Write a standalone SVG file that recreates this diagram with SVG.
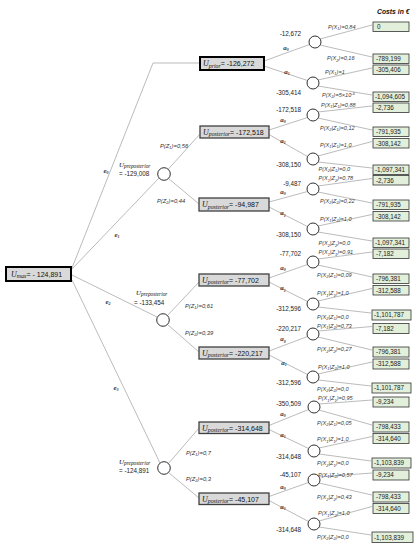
<svg xmlns="http://www.w3.org/2000/svg" width="419" height="550" viewBox="0 0 419 550">
<style>
.ln{stroke:#a9a9a9;stroke-width:0.8;fill:none}
.cn{fill:#fff;stroke:#1a1a1a;stroke-width:0.9}
.db{fill:#d9d9d9;stroke:#404040;stroke-width:1.3}
.dbk{fill:#d9d9d9;stroke:#000;stroke-width:2}
.cb{fill:#e2efda;stroke:#333;stroke-width:0.8}
.v{font-family:"Liberation Sans",Arial,sans-serif;font-size:6.3px;fill:#222}
.vr{font-family:"Liberation Sans",Arial,sans-serif;font-size:6.3px;fill:#222;text-anchor:end}
.bv{font-family:"Liberation Sans",Arial,sans-serif;font-size:7px;fill:#111}
.ui{font-family:"Liberation Serif",serif;font-style:italic;font-size:8px;fill:#111}
.us{font-family:"Liberation Serif",serif;font-style:italic;font-size:5.8px;fill:#111}
.p{font-family:"Liberation Sans",Arial,sans-serif;font-style:italic;font-size:5.6px;fill:#3a3a3a}
.pz{font-family:"Liberation Sans",Arial,sans-serif;font-style:italic;font-size:5.8px;fill:#333}
.a{font-family:"Liberation Serif",serif;font-style:italic;font-weight:bold;font-size:7px;fill:#333;text-anchor:middle}
.hd{font-family:"Liberation Sans",Arial,sans-serif;font-style:italic;font-weight:bold;font-size:6.8px;fill:#111}
.s{font-size:4px}
</style>

<g id="connectors">
<path class="ln" d="M72,268 L153,63 L200,63"/>
<path class="ln" d="M72,269 L159,178"/>
<path class="ln" d="M72,275 L157,317"/>
<path class="ln" d="M72,280 L160,463"/>
<path class="ln" d="M168,169.5 L200,134"/>
<path class="ln" d="M168.5,178.5 L199,204"/>
<path class="ln" d="M167.5,315.5 L199,282"/>
<path class="ln" d="M167.5,324.5 L199,352"/>
<path class="ln" d="M168.5,463.5 L199,428"/>
<path class="ln" d="M168.5,472.5 L199,498"/>
<path class="ln" d="M264,61 L309.5,44.5"/>
<path class="ln" d="M264,66 L307.5,80.5"/>
<path class="ln" d="M269,130 L307.5,117.5"/>
<path class="ln" d="M269,134.5 L307.5,156.5"/>
<path class="ln" d="M269,202 L307.5,191.5"/>
<path class="ln" d="M269,207 L307.5,226.5"/>
<path class="ln" d="M269,278 L307.5,264.5"/>
<path class="ln" d="M269,282 L307.5,301.5"/>
<path class="ln" d="M269,351 L307.5,336.5"/>
<path class="ln" d="M269,355 L307.5,374.5"/>
<path class="ln" d="M269,425.5 L308.5,409.5"/>
<path class="ln" d="M269,429.5 L308.5,448.5"/>
<path class="ln" d="M269,496.5 L308.5,482.5"/>
<path class="ln" d="M269,500.5 L308.5,521.5"/>
<path class="ln" d="M320,39 L372,25"/>
<path class="ln" d="M320,45 L372,57"/>
<path class="ln" d="M318,80 L372,68"/>
<path class="ln" d="M318,86 L372,95"/>
<path class="ln" d="M318,112 L372,106"/>
<path class="ln" d="M318,118 L372,130"/>
<path class="ln" d="M318,156 L372,141.5"/>
<path class="ln" d="M318,162 L372,168"/>
<path class="ln" d="M318,186 L372,178.5"/>
<path class="ln" d="M318,192 L372,203"/>
<path class="ln" d="M318,226 L372,214.5"/>
<path class="ln" d="M318,232 L372,241"/>
<path class="ln" d="M318,259 L372,252"/>
<path class="ln" d="M318,265 L372,277"/>
<path class="ln" d="M318,301 L372,288.5"/>
<path class="ln" d="M318,307 L371,313"/>
<path class="ln" d="M318,331 L372,326.5"/>
<path class="ln" d="M318,337 L372,350"/>
<path class="ln" d="M318,374 L372,362"/>
<path class="ln" d="M318,380 L371,386"/>
<path class="ln" d="M319,404 L372,400"/>
<path class="ln" d="M319,410 L372,425"/>
<path class="ln" d="M319,448 L372,436.5"/>
<path class="ln" d="M319,454 L371,461"/>
<path class="ln" d="M319,477 L372,473"/>
<path class="ln" d="M319,483 L372,495"/>
<path class="ln" d="M319,521 L372,506.5"/>
<path class="ln" d="M319,527 L371,535"/>
</g>

<g id="edge-labels">
<text class="a" x="106" y="173">e<tspan class="s" dy="1.2">0</tspan></text>
<text class="a" x="117" y="237">e<tspan class="s" dy="1.2">1</tspan></text>
<text class="a" x="108" y="304">e<tspan class="s" dy="1.2">2</tspan></text>
<text class="a" x="116" y="390">e<tspan class="s" dy="1.2">3</tspan></text>
<text class="pz" x="160" y="148">P(Z<tspan class="s" dy="1.2">1</tspan><tspan dy="-1.2">)=0,56</tspan></text>
<text class="pz" x="157" y="203">P(Z<tspan class="s" dy="1.2">2</tspan><tspan dy="-1.2">)=0,44</tspan></text>
<text class="pz" x="185" y="308">P(Z<tspan class="s" dy="1.2">1</tspan><tspan dy="-1.2">)=0,61</tspan></text>
<text class="pz" x="185" y="334.5">P(Z<tspan class="s" dy="1.2">2</tspan><tspan dy="-1.2">)=0,39</tspan></text>
<text class="pz" x="186" y="454.5">P(Z<tspan class="s" dy="1.2">1</tspan><tspan dy="-1.2">)=0,7</tspan></text>
<text class="pz" x="186" y="481">P(Z<tspan class="s" dy="1.2">2</tspan><tspan dy="-1.2">)=0,3</tspan></text>
<text class="a" x="286" y="50">a<tspan class="s" dy="1.2">0</tspan></text>
<text class="a" x="287" y="73.5">a<tspan class="s" dy="1.2">1</tspan></text>
<text class="a" x="283" y="121.5">a<tspan class="s" dy="1.2">0</tspan></text>
<text class="a" x="283" y="142.7">a<tspan class="s" dy="1.2">1</tspan></text>
<text class="a" x="283" y="193.7">a<tspan class="s" dy="1.2">0</tspan></text>
<text class="a" x="283" y="215.3">a<tspan class="s" dy="1.2">1</tspan></text>
<text class="a" x="283" y="270">a<tspan class="s" dy="1.2">0</tspan></text>
<text class="a" x="283" y="290.3">a<tspan class="s" dy="1.2">1</tspan></text>
<text class="a" x="283" y="341.3">a<tspan class="s" dy="1.2">0</tspan></text>
<text class="a" x="284" y="364.7">a<tspan class="s" dy="1.2">1</tspan></text>
<text class="a" x="283" y="416">a<tspan class="s" dy="1.2">0</tspan></text>
<text class="a" x="283" y="437">a<tspan class="s" dy="1.2">1</tspan></text>
<text class="a" x="283" y="489">a<tspan class="s" dy="1.2">0</tspan></text>
<text class="a" x="283" y="508.7">a<tspan class="s" dy="1.2">1</tspan></text>

<text class="p" x="328" y="28.7">P(X<tspan class="s" dy="1.2">1</tspan><tspan dy="-1.2">)=0,84</tspan></text>
<text class="p" x="327" y="60.3">P(X<tspan class="s" dy="1.2">2</tspan><tspan dy="-1.2">)=0,16</tspan></text>
<text class="p" x="325" y="73.7">P(X<tspan class="s" dy="1.2">1</tspan><tspan dy="-1.2">)=1</tspan></text>
<text class="p" x="322" y="97">P(X<tspan class="s" dy="1.2">2</tspan><tspan dy="-1.2">)=5×10</tspan><tspan class="s" dy="-2">-5</tspan></text>
<text class="p" x="321" y="107">P(X<tspan class="s" dy="1.2">1</tspan><tspan dy="-1.2">|Z</tspan><tspan class="s" dy="1.2">1</tspan><tspan dy="-1.2">)=0,88</tspan></text>
<text class="p" x="320" y="130">P(X<tspan class="s" dy="1.2">2</tspan><tspan dy="-1.2">|Z</tspan><tspan class="s" dy="1.2">1</tspan><tspan dy="-1.2">)=0,12</tspan></text>
<text class="p" x="320" y="147">P(X<tspan class="s" dy="1.2">1</tspan><tspan dy="-1.2">|Z</tspan><tspan class="s" dy="1.2">1</tspan><tspan dy="-1.2">)=1,0</tspan></text>
<text class="p" x="318.5" y="171">P(X<tspan class="s" dy="1.2">2</tspan><tspan dy="-1.2">|Z</tspan><tspan class="s" dy="1.2">1</tspan><tspan dy="-1.2">)=0,0</tspan></text>
<text class="p" x="318.5" y="180.3">P(X<tspan class="s" dy="1.2">1</tspan><tspan dy="-1.2">|Z</tspan><tspan class="s" dy="1.2">2</tspan><tspan dy="-1.2">)=0,78</tspan></text>
<text class="p" x="320" y="202.7">P(X<tspan class="s" dy="1.2">2</tspan><tspan dy="-1.2">|Z</tspan><tspan class="s" dy="1.2">2</tspan><tspan dy="-1.2">)=0,22</tspan></text>
<text class="p" x="320" y="221">P(X<tspan class="s" dy="1.2">1</tspan><tspan dy="-1.2">|Z</tspan><tspan class="s" dy="1.2">2</tspan><tspan dy="-1.2">)=1,0</tspan></text>
<text class="p" x="318.5" y="245.3">P(X<tspan class="s" dy="1.2">2</tspan><tspan dy="-1.2">|Z</tspan><tspan class="s" dy="1.2">2</tspan><tspan dy="-1.2">)=0,0</tspan></text>
<text class="p" x="318.5" y="254.3">P(X<tspan class="s" dy="1.2">1</tspan><tspan dy="-1.2">|Z</tspan><tspan class="s" dy="1.2">1</tspan><tspan dy="-1.2">)=0,91</tspan></text>
<text class="p" x="317" y="276.7">P(X<tspan class="s" dy="1.2">2</tspan><tspan dy="-1.2">|Z</tspan><tspan class="s" dy="1.2">1</tspan><tspan dy="-1.2">)=0,09</tspan></text>
<text class="p" x="317" y="295.3">P(X<tspan class="s" dy="1.2">1</tspan><tspan dy="-1.2">|Z</tspan><tspan class="s" dy="1.2">1</tspan><tspan dy="-1.2">)=1,0</tspan></text>
<text class="p" x="317" y="318.7">P(X<tspan class="s" dy="1.2">2</tspan><tspan dy="-1.2">|Z</tspan><tspan class="s" dy="1.2">1</tspan><tspan dy="-1.2">)=0,0</tspan></text>
<text class="p" x="317" y="327.7">P(X<tspan class="s" dy="1.2">1</tspan><tspan dy="-1.2">|Z</tspan><tspan class="s" dy="1.2">2</tspan><tspan dy="-1.2">)=0,73</tspan></text>
<text class="p" x="317" y="351.3">P(X<tspan class="s" dy="1.2">2</tspan><tspan dy="-1.2">|Z</tspan><tspan class="s" dy="1.2">2</tspan><tspan dy="-1.2">)=0,27</tspan></text>
<text class="p" x="318" y="368.7">P(X<tspan class="s" dy="1.2">1</tspan><tspan dy="-1.2">|Z</tspan><tspan class="s" dy="1.2">2</tspan><tspan dy="-1.2">)=1,0</tspan></text>
<text class="p" x="317" y="391">P(X<tspan class="s" dy="1.2">2</tspan><tspan dy="-1.2">|Z</tspan><tspan class="s" dy="1.2">2</tspan><tspan dy="-1.2">)=0,0</tspan></text>
<text class="p" x="318" y="400.3">P(X<tspan class="s" dy="1.2">1</tspan><tspan dy="-1.2">|Z</tspan><tspan class="s" dy="1.2">1</tspan><tspan dy="-1.2">)=0,95</tspan></text>
<text class="p" x="317" y="424.7">P(X<tspan class="s" dy="1.2">2</tspan><tspan dy="-1.2">|Z</tspan><tspan class="s" dy="1.2">1</tspan><tspan dy="-1.2">)=0,05</tspan></text>
<text class="p" x="317" y="441.3">P(X<tspan class="s" dy="1.2">1</tspan><tspan dy="-1.2">|Z</tspan><tspan class="s" dy="1.2">1</tspan><tspan dy="-1.2">)=1,0</tspan></text>
<text class="p" x="317" y="465.3">P(X<tspan class="s" dy="1.2">2</tspan><tspan dy="-1.2">|Z</tspan><tspan class="s" dy="1.2">1</tspan><tspan dy="-1.2">)=0,0</tspan></text>
<text class="p" x="318" y="477">P(X<tspan class="s" dy="1.2">1</tspan><tspan dy="-1.2">|Z</tspan><tspan class="s" dy="1.2">2</tspan><tspan dy="-1.2">)=0,57</tspan></text>
<text class="p" x="317" y="499.3">P(X<tspan class="s" dy="1.2">2</tspan><tspan dy="-1.2">|Z</tspan><tspan class="s" dy="1.2">2</tspan><tspan dy="-1.2">)=0,43</tspan></text>
<text class="p" x="318" y="515.3">P(X<tspan class="s" dy="1.2">1</tspan><tspan dy="-1.2">|Z</tspan><tspan class="s" dy="1.2">2</tspan><tspan dy="-1.2">)=1,0</tspan></text>
<text class="p" x="317" y="538.7">P(X<tspan class="s" dy="1.2">2</tspan><tspan dy="-1.2">|Z</tspan><tspan class="s" dy="1.2">2</tspan><tspan dy="-1.2">)=0,0</tspan></text>
</g>

<g id="root">
<rect class="dbk" x="6" y="267" width="65" height="14"/>
<text x="11" y="276.5"><tspan class="ui">U</tspan><tspan class="us" dy="1.5">max</tspan><tspan class="bv" dy="-1.5">= - 124,891</tspan></text>
</g>

<g id="prepost-e1">
<circle class="cn" cx="164" cy="174" r="6.3"/>
<text x="119" y="167"><tspan class="ui" style="font-size:7px">U</tspan><tspan class="us" style="font-size:5.3px" dy="1.3">preposterior</tspan></text>
<text class="v" x="119" y="176">= -129,008</text>
</g>
<g id="prepost-e2">
<circle class="cn" cx="163" cy="320" r="6.3"/>
<text x="136" y="295"><tspan class="ui" style="font-size:7px">U</tspan><tspan class="us" style="font-size:5.3px" dy="1.3">preposterior</tspan></text>
<text class="v" x="134" y="304.5">= -133,454</text>
</g>
<g id="prepost-e3">
<circle class="cn" cx="164" cy="468" r="6.3"/>
<text x="119" y="463.5"><tspan class="ui" style="font-size:7px">U</tspan><tspan class="us" style="font-size:5.3px" dy="1.3">preposterior</tspan></text>
<text class="v" x="119" y="472.5">= -124,891</text>
</g>

<g id="prior">
<rect class="dbk" x="200" y="57" width="64" height="13"/>
<text x="203" y="66"><tspan class="ui">U</tspan><tspan class="us" dy="1.5">prior</tspan><tspan class="bv" dy="-1.5">= -126,272</tspan></text>
</g>
<g id="post-e1-z1">
<rect class="db" x="200" y="126" width="69" height="12"/>
<text x="203" y="134.5"><tspan class="ui">U</tspan><tspan class="us" dy="1.5">posterior</tspan><tspan class="bv" dy="-1.5">= -172,518</tspan></text>
</g>
<g id="post-e1-z2">
<rect class="db" x="199" y="198" width="70" height="13"/>
<text x="202" y="207"><tspan class="ui">U</tspan><tspan class="us" dy="1.5">posterior</tspan><tspan class="bv" dy="-1.5">= -94,987</tspan></text>
</g>
<g id="post-e2-z1">
<rect class="db" x="199" y="274" width="70" height="12"/>
<text x="202" y="282.5"><tspan class="ui">U</tspan><tspan class="us" dy="1.5">posterior</tspan><tspan class="bv" dy="-1.5">= -77,702</tspan></text>
</g>
<g id="post-e2-z2">
<rect class="db" x="199" y="347" width="70" height="12"/>
<text x="202" y="355.5"><tspan class="ui">U</tspan><tspan class="us" dy="1.5">posterior</tspan><tspan class="bv" dy="-1.5">= -220,217</tspan></text>
</g>
<g id="post-e3-z1">
<rect class="db" x="199" y="422" width="70" height="11.5"/>
<text x="202" y="430.5"><tspan class="ui">U</tspan><tspan class="us" dy="1.5">posterior</tspan><tspan class="bv" dy="-1.5">= -314,648</tspan></text>
</g>
<g id="post-e3-z2">
<rect class="db" x="199" y="493" width="70" height="11.5"/>
<text x="202" y="501.5"><tspan class="ui">U</tspan><tspan class="us" dy="1.5">posterior</tspan><tspan class="bv" dy="-1.5">= -45,107</tspan></text>
</g>

<g id="chance-nodes">
<g id="c1"><circle class="cn" cx="315" cy="42" r="6"/><text class="vr" x="301" y="35.5">-12,672</text></g>
<g id="c2"><circle class="cn" cx="313" cy="83" r="6"/><text class="vr" x="301" y="95">-305,414</text></g>
<g id="c3"><circle class="cn" cx="313" cy="115" r="6"/><text class="vr" x="301" y="111.5">-172,518</text></g>
<g id="c4"><circle class="cn" cx="313" cy="159" r="6"/><text class="vr" x="301" y="167">-308,150</text></g>
<g id="c5"><circle class="cn" cx="313" cy="189" r="6"/><text class="vr" x="301" y="185.5">-9,487</text></g>
<g id="c6"><circle class="cn" cx="313" cy="229" r="6"/><text class="vr" x="301" y="237">-308,150</text></g>
<g id="c7"><circle class="cn" cx="313" cy="262" r="6"/><text class="vr" x="301" y="256">-77,702</text></g>
<g id="c8"><circle class="cn" cx="313" cy="304" r="6"/><text class="vr" x="301" y="310.5">-312,596</text></g>
<g id="c9"><circle class="cn" cx="313" cy="334" r="6"/><text class="vr" x="301" y="331">-220,217</text></g>
<g id="c10"><circle class="cn" cx="313" cy="377" r="6"/><text class="vr" x="301" y="385">-312,596</text></g>
<g id="c11"><circle class="cn" cx="314" cy="407" r="6"/><text class="vr" x="301" y="406">-350,509</text></g>
<g id="c12"><circle class="cn" cx="314" cy="451" r="6"/><text class="vr" x="301" y="459">-314,648</text></g>
<g id="c13"><circle class="cn" cx="314" cy="480" r="6"/><text class="vr" x="301" y="477">-45,107</text></g>
<g id="c14"><circle class="cn" cx="314" cy="524" r="6"/><text class="vr" x="301" y="532">-314,648</text></g>
</g>

<g id="costs">
<text class="hd" x="377" y="13.5">Costs in €</text>
<g id="k0"><rect class="cb" x="373" y="22" width="36" height="9.5"/><text class="v" x="377" y="29.2">0</text></g>
<g id="k1"><rect class="cb" x="373" y="54" width="36" height="9.5"/><text class="v" x="376" y="61.2">-789,199</text></g>
<g id="k2"><rect class="cb" x="373" y="65" width="36" height="9.5"/><text class="v" x="376" y="72.2">-305,406</text></g>
<g id="k3"><rect class="cb" x="373" y="92" width="36" height="9.5"/><text class="v" x="375" y="99.2">-1,094,605</text></g>
<g id="k4"><rect class="cb" x="373" y="103" width="36" height="9.5"/><text class="v" x="376" y="110.2">-2,736</text></g>
<g id="k5"><rect class="cb" x="373" y="127" width="36" height="9.5"/><text class="v" x="376" y="134.2">-791,935</text></g>
<g id="k6"><rect class="cb" x="373" y="138.5" width="36" height="9.5"/><text class="v" x="376" y="145.7">-308,142</text></g>
<g id="k7"><rect class="cb" x="373" y="165" width="36" height="9.5"/><text class="v" x="375" y="172.2">-1,097,341</text></g>
<g id="k8"><rect class="cb" x="373" y="175.5" width="36" height="9.5"/><text class="v" x="376" y="182.7">-2,736</text></g>
<g id="k9"><rect class="cb" x="373" y="200" width="36" height="9.5"/><text class="v" x="376" y="207.2">-791,935</text></g>
<g id="k10"><rect class="cb" x="373" y="211.5" width="36" height="9.5"/><text class="v" x="376" y="218.7">-308,142</text></g>
<g id="k11"><rect class="cb" x="373" y="238" width="36" height="9.5"/><text class="v" x="375" y="245.2">-1,097,341</text></g>
<g id="k12"><rect class="cb" x="373" y="249" width="36" height="9.5"/><text class="v" x="376" y="256.2">-7,182</text></g>
<g id="k13"><rect class="cb" x="373" y="274" width="36" height="9.5"/><text class="v" x="376" y="281.2">-796,381</text></g>
<g id="k14"><rect class="cb" x="373" y="285.5" width="36" height="9.5"/><text class="v" x="376" y="292.7">-312,588</text></g>
<g id="k15"><rect class="cb" x="372" y="310" width="39" height="10"/><text class="v" x="374" y="317.4">-1,101,787</text></g>
<g id="k16"><rect class="cb" x="373" y="323.5" width="36" height="10"/><text class="v" x="376" y="330.9">-7,182</text></g>
<g id="k17"><rect class="cb" x="373" y="347" width="36" height="10"/><text class="v" x="376" y="354.4">-796,381</text></g>
<g id="k18"><rect class="cb" x="373" y="359" width="36" height="10"/><text class="v" x="376" y="366.4">-312,588</text></g>
<g id="k19"><rect class="cb" x="372" y="383" width="39" height="10"/><text class="v" x="374" y="390.4">-1,101,787</text></g>
<g id="k20"><rect class="cb" x="373" y="397" width="36" height="10"/><text class="v" x="376" y="404.4">-9,234</text></g>
<g id="k21"><rect class="cb" x="373" y="422" width="36" height="10"/><text class="v" x="376" y="429.4">-798,433</text></g>
<g id="k22"><rect class="cb" x="373" y="433.5" width="36" height="10"/><text class="v" x="376" y="440.9">-314,640</text></g>
<g id="k23"><rect class="cb" x="372" y="458" width="39" height="10"/><text class="v" x="374" y="465.4">-1,103,839</text></g>
<g id="k24"><rect class="cb" x="373" y="470" width="36" height="10"/><text class="v" x="376" y="477.4">-9,234</text></g>
<g id="k25"><rect class="cb" x="373" y="492" width="36" height="10"/><text class="v" x="376" y="499.4">-798,433</text></g>
<g id="k26"><rect class="cb" x="373" y="503.5" width="36" height="10"/><text class="v" x="376" y="510.9">-314,640</text></g>
<g id="k27"><rect class="cb" x="372" y="532" width="41" height="10.5"/><text class="v" x="374" y="539.6">-1,103,839</text></g>
</g>
</svg>
